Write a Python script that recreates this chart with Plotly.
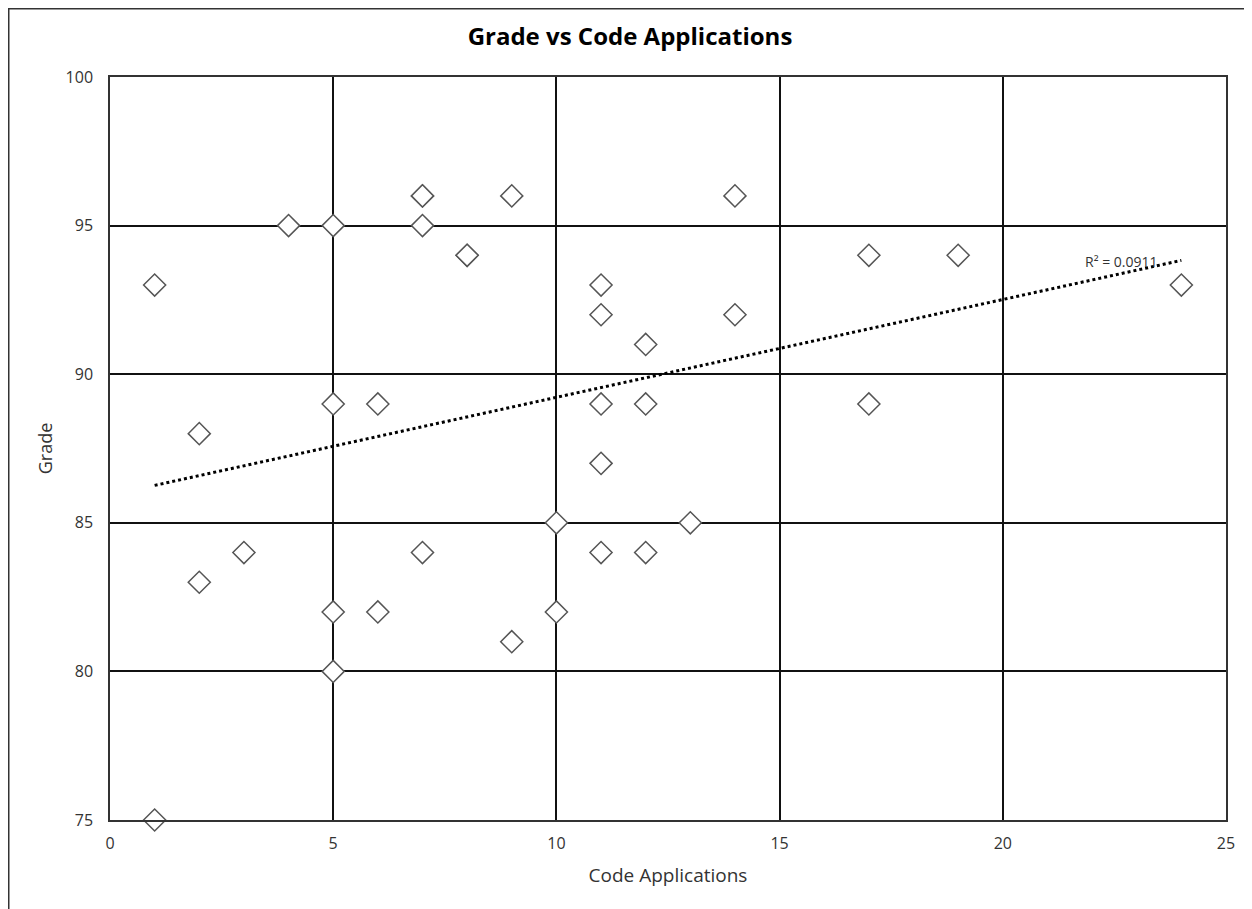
import numpy as np
import plotly.graph_objects as go

code_apps = [1, 1, 2, 2, 3, 4, 5, 5, 5, 5, 6, 6, 7, 7, 7, 7, 8, 8, 9, 9, 10, 10,
             11, 11, 11, 11, 11, 12, 12, 12, 13, 14, 14, 17, 17, 19, 24]
grades = [93, 75, 88, 83, 84, 95, 95, 89, 82, 80, 89, 82, 96, 96, 95, 84, 94, 94, 96, 81, 85, 82,
          93, 92, 89, 87, 84, 91, 89, 84, 85, 96, 92, 94, 89, 94, 93]
r2_label = "R² = 0.0911"

x = np.array(code_apps, dtype=float)
y = np.array(grades, dtype=float)
slope, intercept = np.polyfit(x, y, 1)
tx = np.array([x.min(), x.max()])
ty = slope * tx + intercept

# page body has an 8px margin, so the figure is drawn at (8, 8)
W, H = 1244, 901
L, R, T, B = 102, 26, 69, 89
pw, ph = W - L - R, H - T - B

fig = go.Figure()
fig.add_trace(go.Scatter(
    x=tx, y=ty, mode="lines",
    line=dict(color="black", width=3, dash="dot"),
    hoverinfo="skip", showlegend=False, cliponaxis=False))
fig.add_trace(go.Scatter(
    x=code_apps, y=grades, mode="markers",
    marker=dict(symbol="diamond", size=17, color="white",
                line=dict(color="#555555", width=1.5)),
    showlegend=False, cliponaxis=False))

fig.add_annotation(x=22.67, y=93.8, text=r2_label, showarrow=False,
                   font=dict(size=14, color="#333", family="Open Sans, sans-serif"),
                   xanchor="center", yanchor="middle")

# outer chart border
fig.add_shape(type="rect", xref="paper", yref="paper",
              x0=(0.75 - L) / pw, x1=1 + 60 / pw,
              y0=-(B + 60) / ph, y1=1 + (T - 0.75) / ph,
              line=dict(color="#333333", width=1.5), layer="below")

fig.update_layout(
    width=W, height=H,
    margin=dict(l=L, r=R, t=T, b=B),
    paper_bgcolor="white", plot_bgcolor="white",
    font=dict(family="Open Sans, sans-serif", color="#333"),
    title=dict(text="<b>Grade vs Code Applications</b>", x=0.5, xanchor="center",
               y=1 - 29 / H, yanchor="middle",
               font=dict(size=24, color="black")),
    xaxis=dict(range=[0, 25], tickvals=[0, 5, 10, 15, 20, 25],
               showgrid=True, gridcolor="#111", gridwidth=1.5,
               showline=True, linecolor="#333", linewidth=1.5, mirror=True,
               zeroline=False, ticks="", tickfont=dict(size=16, color="#333"),
               ticklabelstandoff=8,
               title=dict(text="Code Applications", font=dict(size=19, color="#333"), standoff=16)),
    yaxis=dict(range=[75, 100], tickvals=[75, 80, 85, 90, 95, 100],
               showgrid=True, gridcolor="#111", gridwidth=1.5,
               showline=True, linecolor="#333", linewidth=1.5, mirror=True,
               zeroline=False, ticks="", tickfont=dict(size=16, color="#333"),
               ticklabelstandoff=12,
               title=dict(text="Grade", font=dict(size=18, color="#333"), standoff=8)),
)

fig.write_html("out.html")
